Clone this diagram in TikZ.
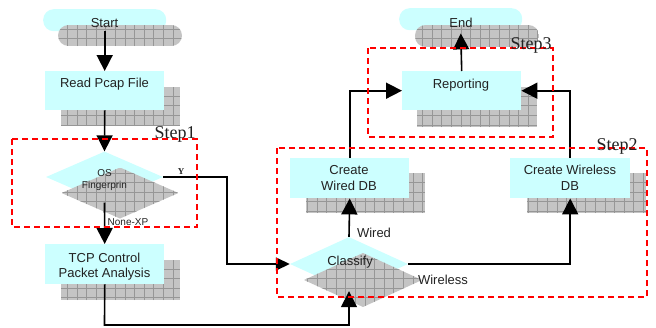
\documentclass[tikz,border=0pt]{standalone}
\usepackage{fontspec}
\setmainfont{Liberation Serif}
\newfontfamily\arialf{Liberation Sans}
\usetikzlibrary{shapes.geometric,arrows.meta}
\definecolor{boxcyan}{HTML}{CCFFFF}
\definecolor{shgray}{HTML}{C4C4C4}
\definecolor{shline}{HTML}{969696}
\definecolor{txtc}{HTML}{222222}
\newcommand\hatchrect[4]{\begin{scope}\clip (#1,#2) rectangle (#3,#4);\fill[shgray] (#1,#2) rectangle (#3,#4);\draw[shline,line width=0.6pt,step=9.6pt] (#1,#2) grid (#3,#4);\end{scope}}
\newcommand\hatchcaps[4]{\begin{scope}\clip[rounded corners=10.5] (#1,#2) rectangle (#3,#4);\fill[shgray] (#1,#2) rectangle (#3,#4);\draw[shline,line width=0.6pt,step=9.6pt] (#1,#2) grid (#3,#4);\end{scope}}
\newcommand\hatchdiam[4]{\begin{scope}\clip ({#1-#3},#2) -- (#1,{#2-#4}) -- ({#1+#3},#2) -- (#1,{#2+#4}) -- cycle;\fill[shgray] ({#1-#3},{#2-#4}) rectangle ({#1+#3},{#2+#4});\draw[shline,line width=0.6pt,step=9.6pt] ({#1-#3},{#2-#4}) grid ({#1+#3},{#2+#4});\end{scope}}
\begin{document}
\begin{tikzpicture}[x=1pt,y=-1pt,
  boxst/.style={rectangle,fill=boxcyan,inner sep=0,anchor=north west},
  capsst/.style={rectangle,rounded corners=10.5pt,fill=boxcyan,inner sep=0,anchor=north west,minimum width=123,minimum height=22},
  diamst/.style={diamond,fill=boxcyan,inner sep=0},
  txt/.style={font=\arialf\fontsize{13}{16}\selectfont,text=txtc,inner sep=0,anchor=base},
  smalltxt/.style={font=\arialf\fontsize{10}{12}\selectfont,text=txtc,inner sep=0,anchor=base},
  steplbl/.style={font=\fontsize{18}{20}\selectfont,text=txtc,inner sep=0,anchor=base},
  stepbox/.style={draw=red,line width=1.5pt,dash pattern=on 6pt off 4pt},
  conn/.style={draw=black,line width=1.6pt},
  arr/.style={conn,-{Triangle[length=16pt,width=16pt]}},
  sarr/.style={conn,-{Triangle[length=14pt,width=13pt]}}
]
\useasboundingbox (0,0) rectangle (656,327);

% rectangle shadows (behind boxes)
\hatchrect{61}{87}{180}{126}
\hatchrect{61}{260}{180}{300}
\hatchrect{306}{173}{425}{213}
\hatchrect{527}{173}{646}{213}
\hatchrect{417}{87}{537}{127}

% boxes
\node[boxst,minimum width=119,minimum height=39] (read) at (45,71) {};
\node[boxst,minimum width=119,minimum height=40] (tcp) at (45,244) {};
\node[boxst,minimum width=119,minimum height=40] (wired) at (290,158) {};
\node[boxst,minimum width=120,minimum height=40] (wireless) at (510,158) {};
\node[boxst,minimum width=119,minimum height=39] (rep) at (402,71) {};
\node[capsst] (start) at (43,9) {};
\node[capsst] (end) at (399,8) {};
\node[diamst,minimum width=117,minimum height=51] (os) at (104.5,177) {};
\node[diamst,minimum width=118,minimum height=54] (cls) at (349,264) {};

% shadows drawn over capsules and diamonds
\hatchcaps{58}{25}{182}{46}
\hatchcaps{415}{25}{539}{47}
\hatchdiam{120}{193}{58.5}{25.5}
\hatchdiam{363}{280}{59}{27}

% texts
\node[txt] (tstart) at (104.5,27) {Start};
\node[txt] (tend) at (461,27) {End};
\node[txt] (tread) at (104.5,87.5) {Read Pcap File};
\node[txt] (trep) at (461,88) {Reporting};
\node[smalltxt] (tos1) at (104.5,176) {OS};
\node[smalltxt] (tos2) at (104.5,188) {Fingerprin};
\node[txt] (ttcp1) at (104.5,262) {TCP Control};
\node[txt] (ttcp2) at (104.5,277) {Packet Analysis};
\node[txt] (twd1) at (349,174) {Create};
\node[txt] (twd2) at (349,190) {Wired DB};
\node[txt] (twl1) at (570,174) {Create Wireless};
\node[txt] (twl2) at (570,190) {DB};
\node[txt] (tcls) at (350,265) {Classify};
\node[txt] (lwired) at (374,237) {Wired};
\node[txt] (lwireless) at (443,284) {Wireless};
\node[smalltxt] (lnone) at (128,225) {None-XP};
\node[font=\bfseries\fontsize{9}{10}\selectfont,text=txtc,inner sep=0,anchor=base] (ly) at (181,174) {Y};

% connectors
\coordinate (yturn) at (227,177);
\coordinate (bturn) at (104.5,325);
\draw[arr] (start.south) -- (read.north);
\draw[arr] (read.south) -- (os.north);
\draw[arr] (os.south) -- (tcp.north);
\draw[sarr] (os.east) -- (yturn) |- (cls.west);
\draw[arr] (tcp.south) -- (bturn) -| (cls.south);
\draw[arr] (cls.north) -- (wired.south);
\draw[arr] (cls.east) -| (wireless.south);
\draw[arr] (wired.north) |- (rep.west);
\draw[arr] (wireless.north) |- (rep.east);
\draw[arr,shorten >=3pt] (rep.north) -- (end.south);

% step boxes
\draw[stepbox] (12,139) rectangle (197,227);
\draw[stepbox] (277,148) rectangle (647,297);
\draw[stepbox] (368,48) rectangle (553,137);
\node[steplbl] (s1) at (175,138) {Step1};
\node[steplbl] (s2) at (617,150) {Step2};
\node[steplbl] (s3) at (531,49) {Step3};
\end{tikzpicture}
\end{document}
